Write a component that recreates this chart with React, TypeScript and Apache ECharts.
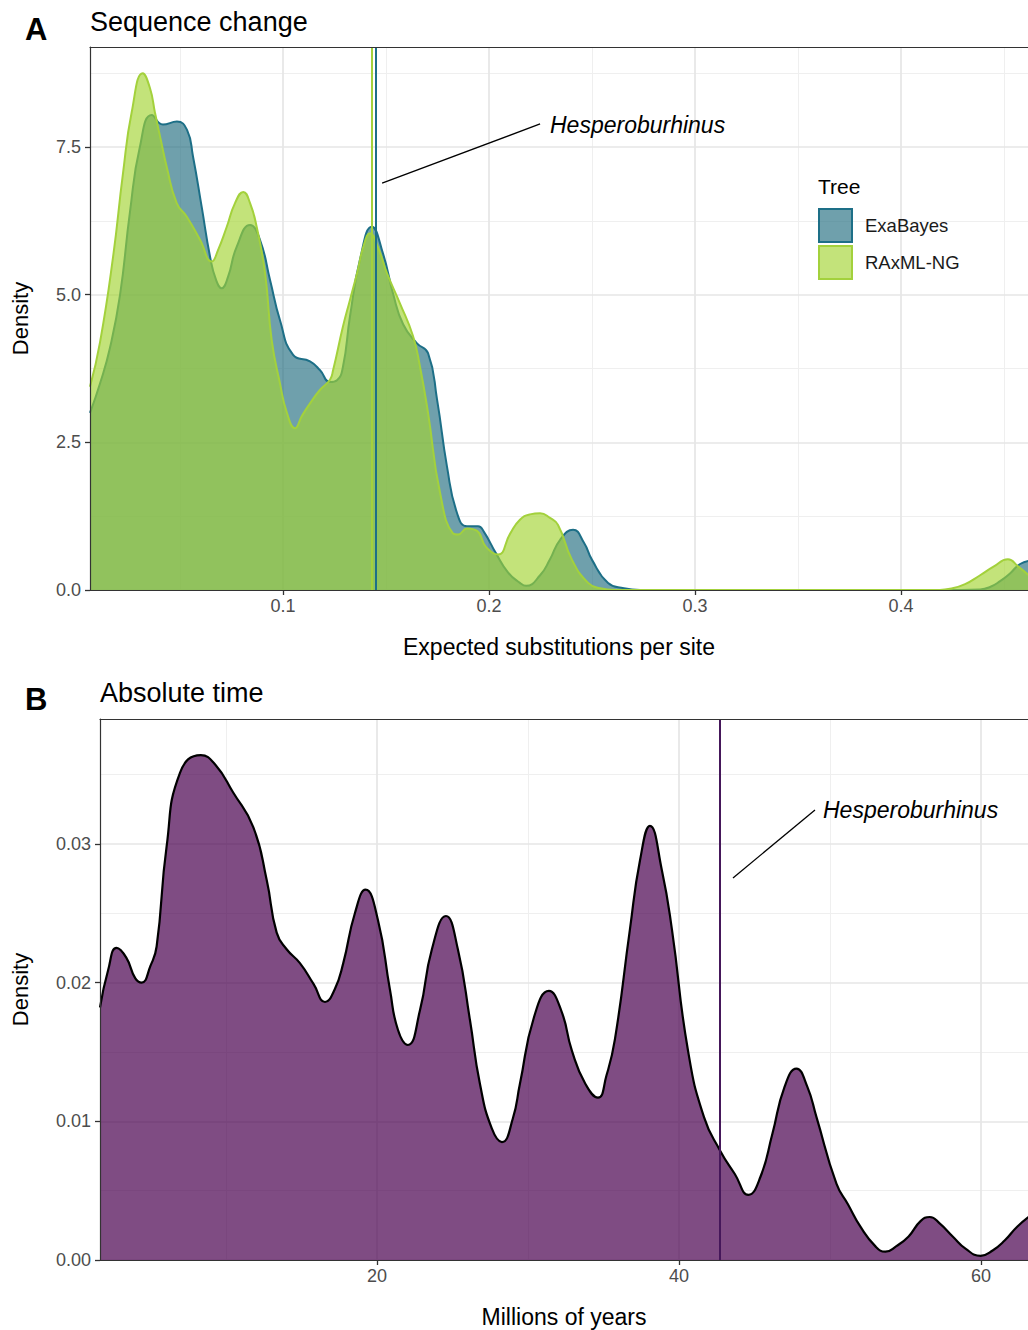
import React, { useEffect, useRef } from "react";
import * as echarts from "echarts";

// ---------- Panel A: Sequence change (expected substitutions per site) ----------
const exaX = [0.0063, 0.0112, 0.016, 0.0209, 0.0257, 0.0305, 0.0363, 0.0417, 0.0485, 0.0534, 0.0563, 0.0605, 0.0646, 0.0675, 0.0702, 0.0733, 0.0775, 0.084, 0.0888, 0.0937, 0.0985, 0.1049, 0.1131, 0.118, 0.1228, 0.1262, 0.1291, 0.1325, 0.1374, 0.1431, 0.1485, 0.1534, 0.1583, 0.1649, 0.1704, 0.1748, 0.1796, 0.1845, 0.1893, 0.1947, 0.1976, 0.2034, 0.2092, 0.215, 0.218, 0.2248, 0.2296, 0.2345, 0.2408, 0.2461, 0.25, 0.2578, 0.2655, 0.2733, 0.3, 0.36, 0.42, 0.4384, 0.4432, 0.4481, 0.4529, 0.4578, 0.4636];
const exaY = [3.0, 3.5, 4.1, 5.0, 6.4, 7.5, 8.04, 7.88, 7.93, 7.79, 7.34, 6.49, 5.64, 5.25, 5.11, 5.3, 5.81, 6.18, 5.93, 5.25, 4.57, 3.98, 3.87, 3.72, 3.52, 3.55, 3.78, 4.63, 5.6, 6.15, 5.7, 5.02, 4.5, 4.18, 4.01, 3.22, 2.09, 1.3, 1.08, 1.08, 0.98, 0.62, 0.3, 0.12, 0.07, 0.25, 0.52, 0.85, 1.02, 0.8, 0.51, 0.12, 0.03, 0, 0, 0, 0, 0.01, 0.05, 0.15, 0.28, 0.44, 0.5];

const raxX = [0.0063, 0.0112, 0.0175, 0.0223, 0.0266, 0.0319, 0.0354, 0.0379, 0.0408, 0.0435, 0.0484, 0.0533, 0.0597, 0.0654, 0.0684, 0.0727, 0.0767, 0.0807, 0.084, 0.0872, 0.0913, 0.0945, 0.0985, 0.1019, 0.1058, 0.1092, 0.1131, 0.118, 0.1228, 0.1243, 0.1291, 0.1325, 0.1359, 0.1393, 0.1422, 0.1461, 0.1505, 0.1568, 0.1631, 0.1665, 0.1704, 0.1762, 0.1825, 0.185, 0.1893, 0.1942, 0.1985, 0.2044, 0.2102, 0.215, 0.2199, 0.2248, 0.2296, 0.2335, 0.2403, 0.2481, 0.2539, 0.2612, 0.3, 0.38, 0.4189, 0.4238, 0.4311, 0.4384, 0.4447, 0.4519, 0.4568, 0.4636];
const raxY = [3.44, 4.2, 5.64, 7.05, 8.1, 8.75, 8.5, 8.07, 7.6, 7.17, 6.55, 6.32, 5.93, 5.56, 5.75, 6.15, 6.55, 6.74, 6.55, 6.15, 5.36, 4.23, 3.5, 3.0, 2.74, 2.95, 3.16, 3.39, 3.56, 3.72, 4.46, 4.91, 5.36, 5.85, 6.04, 5.8, 5.36, 4.85, 4.3, 3.78, 3.0, 1.65, 0.96, 0.94, 1.04, 1.0, 0.73, 0.6, 0.95, 1.19, 1.28, 1.3, 1.22, 1.1, 0.51, 0.12, 0.03, 0, 0, 0, 0, 0.02, 0.1, 0.25, 0.39, 0.52, 0.4, 0.2];

const exaMarker = 0.1451;
const raxMarker = 0.1432;

const seqTicksX = [0.1, 0.2, 0.3, 0.4];
const seqMinorX = [0.05, 0.15, 0.25, 0.35, 0.45];
const seqTicksY = [0, 2.5, 5, 7.5];
const seqMinorY = [1.25, 3.75, 6.25, 8.75];

// ---------- Panel B: Absolute time (millions of years) ----------
const timeX = [1.66, 2.2, 2.76, 3.4, 4.0, 4.42, 5.0, 5.41, 6.07, 6.95, 8.34, 9.3, 10.48, 11.81, 12.7, 13.36, 14.02, 14.9, 15.8, 16.56, 17.2, 17.77, 18.54, 19.25, 20.07, 20.86, 21.39, 22.05, 22.85, 23.64, 24.57, 25.36, 26.16, 26.82, 27.6, 28.28, 29.0, 29.47, 30.4, 31.39, 32.2, 32.91, 33.8, 34.64, 35.2, 35.76, 36.75, 37.42, 38.08, 38.87, 39.54, 40.6, 41.66, 42.72, 43.7, 44.6, 45.4, 46.19, 47.0, 47.78, 48.5, 49.11, 50.43, 51.2, 52.02, 53.0, 53.67, 54.4, 55.21, 56.0, 56.61, 57.3, 58.13, 59.0, 59.98, 60.8, 61.57, 62.4, 63.4];
const timeY = [0.0182, 0.0209, 0.0225, 0.0218, 0.0203, 0.02, 0.0212, 0.0226, 0.0298, 0.0351, 0.0364, 0.0357, 0.0337, 0.0312, 0.0274, 0.0236, 0.0224, 0.0214, 0.0199, 0.0186, 0.0195, 0.0214, 0.025, 0.0267, 0.0245, 0.0195, 0.0166, 0.0155, 0.018, 0.0224, 0.0248, 0.0224, 0.0173, 0.0127, 0.0095, 0.0085, 0.0102, 0.0127, 0.0175, 0.0194, 0.018, 0.0151, 0.0127, 0.0117, 0.0133, 0.0159, 0.0238, 0.0288, 0.0313, 0.0281, 0.0238, 0.0151, 0.0103, 0.0079, 0.0062, 0.0047, 0.006, 0.0091, 0.0125, 0.0138, 0.0125, 0.0103, 0.0055, 0.004, 0.0024, 0.001, 0.0006, 0.001, 0.0017, 0.0028, 0.0031, 0.0026, 0.0017, 0.0008, 0.0003, 0.0007, 0.0014, 0.0024, 0.0033];

const timeMarker = 42.72;

const timeTicksX = [20, 40, 60];
const timeMinorX = [10, 30, 50];
const timeTicksY = [0, 0.01, 0.02, 0.03];
const timeMinorY = [0.005, 0.015, 0.025, 0.035];

// annotation segments (data coordinates)
const seqNote = [[0.1481, 6.89], [0.2248, 7.89]];
const timeNote = [[43.58, 0.02754], [49.01, 0.03244]];

// axis ranges
const seqRangeX = [0.0063, 0.0063 + 938 / 2060];
const seqRangeY = [0, 9.193];
const timeRangeX = [1.66, 1.66 + 928 / 15.1];
const timeRangeY = [0, 0.039];

const FONT = "'Liberation Sans', Arial, Helvetica, sans-serif";
const TEAL_LINE = "#1d6f87";
const TEAL_FILL = "rgba(34,109,128,0.65)";
const GREEN_LINE = "#a3d13c";
const GREEN_FILL = "rgba(163,212,50,0.65)";
const PURPLE_FILL = "rgba(72,0,78,0.7)";
const PURPLE_VLINE = "#45175a";
const FRAME = "#333";

function gridLines(idx: number, majX: number[], minX: number[], majY: number[], minY: number[]) {
  const major = { color: "#e6e6e6", width: 1.7, type: "solid" };
  const minor = { color: "#efefef", width: 1, type: "solid" };
  return {
    type: "line",
    xAxisIndex: idx,
    yAxisIndex: idx,
    data: [],
    silent: true,
    z: 1,
    markLine: {
      silent: true,
      z: 1,
      precision: 6,
      symbol: ["none", "none"],
      label: { show: false },
      emphasis: { disabled: true },
      data: [
        ...minX.map((v) => ({ xAxis: v, lineStyle: minor })),
        ...minY.map((v) => ({ yAxis: v, lineStyle: minor })),
        ...majX.map((v) => ({ xAxis: v, lineStyle: major })),
        ...majY.map((v) => ({ yAxis: v, lineStyle: major })),
      ],
    },
  };
}

function xAxisCfg(gi: number, range: number[], ticks: number[], fmt: (v: number) => string, name: string) {
  return {
    type: "value",
    gridIndex: gi,
    min: range[0],
    max: range[1],
    z: 10,
    name,
    nameLocation: "middle",
    nameGap: 45,
    nameTextStyle: { fontSize: 23, color: "#000", fontFamily: FONT },
    axisLine: { show: true, lineStyle: { color: FRAME, width: 1.2 } },
    splitLine: { show: false },
    axisTick: { show: true, length: 5, lineStyle: { color: FRAME, width: 1.3 }, customValues: ticks },
    axisLabel: { show: true, margin: 7, fontSize: 18, color: "#4d4d4d", fontFamily: FONT, customValues: ticks, formatter: fmt },
  };
}

// top frame edge of a panel
function topAxisCfg(gi: number, range: number[]) {
  return {
    type: "value",
    gridIndex: gi,
    position: "top",
    min: range[0],
    max: range[1],
    z: 10,
    axisLine: { show: true, lineStyle: { color: FRAME, width: 1.2 } },
    axisTick: { show: false },
    axisLabel: { show: false },
    splitLine: { show: false },
  };
}

function yAxisCfg(gi: number, range: number[], ticks: number[], fmt: (v: number) => string, gap: number) {
  return {
    type: "value",
    gridIndex: gi,
    min: range[0],
    max: range[1],
    z: 10,
    name: "Density",
    nameLocation: "middle",
    nameGap: gap,
    nameTextStyle: { fontSize: 22, color: "#000", fontFamily: FONT },
    axisLine: { show: true, lineStyle: { color: FRAME, width: 1.2 } },
    splitLine: { show: false },
    axisTick: { show: true, length: 5, lineStyle: { color: FRAME, width: 1.3 }, customValues: ticks },
    axisLabel: { show: true, margin: 9, fontSize: 18, color: "#4d4d4d", fontFamily: FONT, customValues: ticks, formatter: fmt },
  };
}

function txt(text: string, x: number, y: number, size: number, extra: any = {}) {
  return {
    type: "text",
    x,
    y,
    z: 20,
    style: { text, fontSize: size, fontFamily: FONT, fill: "#000", verticalAlign: "middle", align: "left", ...extra },
  };
}

function vline(value: number, color: string, z: number) {
  return {
    silent: true,
    z,
    precision: 6,
    symbol: ["none", "none"],
    label: { show: false },
    emphasis: { disabled: true },
    lineStyle: { color, width: 2, type: "solid" },
    data: [{ xAxis: value }],
  };
}

function segment(pts: number[][]) {
  return {
    silent: true,
    z: 8,
    precision: 6,
    symbol: ["none", "none"],
    label: { show: false },
    emphasis: { disabled: true },
    lineStyle: { color: "#000", width: 1.3, type: "solid" },
    data: [[{ coord: pts[0] }, { coord: pts[1] }]],
  };
}

export default function App() {
  const ref = useRef<HTMLDivElement>(null);
  useEffect(() => {
    if (!ref.current) return;
    const chart = echarts.init(ref.current, null, { renderer: "svg" });
    const option: any = {
      animation: false,
      backgroundColor: "#ffffff",
      textStyle: { fontFamily: FONT },
      grid: [
        { left: 90, top: 47, width: 938, height: 543, show: false, containLabel: false },
        { left: 100, top: 719, width: 928, height: 541, show: false, containLabel: false },
      ],
      xAxis: [
        xAxisCfg(0, seqRangeX, seqTicksX, (v: number) => v.toFixed(1), "Expected substitutions per site"),
        xAxisCfg(1, timeRangeX, timeTicksX, (v: number) => String(Math.round(v)), "Millions of years"),
        topAxisCfg(0, seqRangeX),
        topAxisCfg(1, timeRangeX),
      ],
      yAxis: [
        yAxisCfg(0, seqRangeY, seqTicksY, (v: number) => v.toFixed(1), 59),
        yAxisCfg(1, timeRangeY, timeTicksY, (v: number) => v.toFixed(2), 69),
      ],
      legend: {
        left: 818,
        top: 208,
        padding: 0,
        orient: "vertical",
        itemWidth: 33,
        itemHeight: 33,
        itemGap: 2,
        selectedMode: false,
        icon: "rect",
        textStyle: { fontSize: 18.5, color: "#1a1a1a", fontFamily: FONT, padding: [0, 0, 0, 8] },
        data: [
          { name: "ExaBayes", icon: "rect", itemStyle: { color: TEAL_FILL, opacity: 1, borderColor: TEAL_LINE, borderWidth: 2 } },
          { name: "RAxML-NG", icon: "rect", itemStyle: { color: GREEN_FILL, opacity: 1, borderColor: GREEN_LINE, borderWidth: 2 } },
        ],
      },
      series: [
        gridLines(0, seqTicksX, seqMinorX, seqTicksY, seqMinorY),
        gridLines(1, timeTicksX, timeMinorX, timeTicksY, timeMinorY),
        {
          name: "ExaBayes",
          type: "line",
          xAxisIndex: 0,
          yAxisIndex: 0,
          data: exaX.map((x, i) => [x, exaY[i]]),
          smooth: 0.5,
          symbol: "none",
          showSymbol: false,
          z: 3,
          silent: true,
          lineStyle: { color: TEAL_LINE, width: 2 },
          itemStyle: { color: TEAL_LINE },
          areaStyle: { color: TEAL_FILL, opacity: 1, origin: "start" },
          markLine: vline(exaMarker, TEAL_LINE, 7),
        },
        {
          name: "RAxML-NG",
          type: "line",
          xAxisIndex: 0,
          yAxisIndex: 0,
          data: raxX.map((x, i) => [x, raxY[i]]),
          smooth: 0.5,
          symbol: "none",
          showSymbol: false,
          z: 4,
          silent: true,
          lineStyle: { color: GREEN_LINE, width: 2 },
          itemStyle: { color: GREEN_LINE },
          areaStyle: { color: GREEN_FILL, opacity: 1, origin: "start" },
          markLine: vline(raxMarker, GREEN_LINE, 6),
        },
        {
          name: "time",
          type: "line",
          xAxisIndex: 1,
          yAxisIndex: 1,
          data: timeX.map((x, i) => [x, timeY[i]]),
          smooth: 0.5,
          symbol: "none",
          showSymbol: false,
          z: 3,
          silent: true,
          lineStyle: { color: "#000", width: 2.2 },
          itemStyle: { color: "#000" },
          areaStyle: { color: PURPLE_FILL, opacity: 1, origin: "start" },
          markLine: vline(timeMarker, PURPLE_VLINE, 6),
        },
        {
          type: "line",
          xAxisIndex: 0,
          yAxisIndex: 0,
          data: [],
          silent: true,
          markLine: segment(seqNote),
        },
        {
          type: "line",
          xAxisIndex: 1,
          yAxisIndex: 1,
          data: [],
          silent: true,
          markLine: segment(timeNote),
        },
      ],
      graphic: [
        txt("A", 25, 29, 31, { fontWeight: "bold" }),
        txt("Sequence change", 90, 22, 27),
        txt("B", 25, 699, 31, { fontWeight: "bold" }),
        txt("Absolute time", 100, 693, 27),
        txt("Tree", 818, 186, 21),
        txt("Hesperoburhinus", 550, 125, 23, { fontStyle: "italic" }),
        txt("Hesperoburhinus", 823, 810, 23, { fontStyle: "italic" }),
      ],
    };
    chart.setOption(option);
    return () => chart.dispose();
  }, []);
  return (
    <div
      ref={ref}
      style={{ position: "absolute", left: 0, top: 0, width: 1028, height: 1330, background: "#fff" }}
    />
  );
}
